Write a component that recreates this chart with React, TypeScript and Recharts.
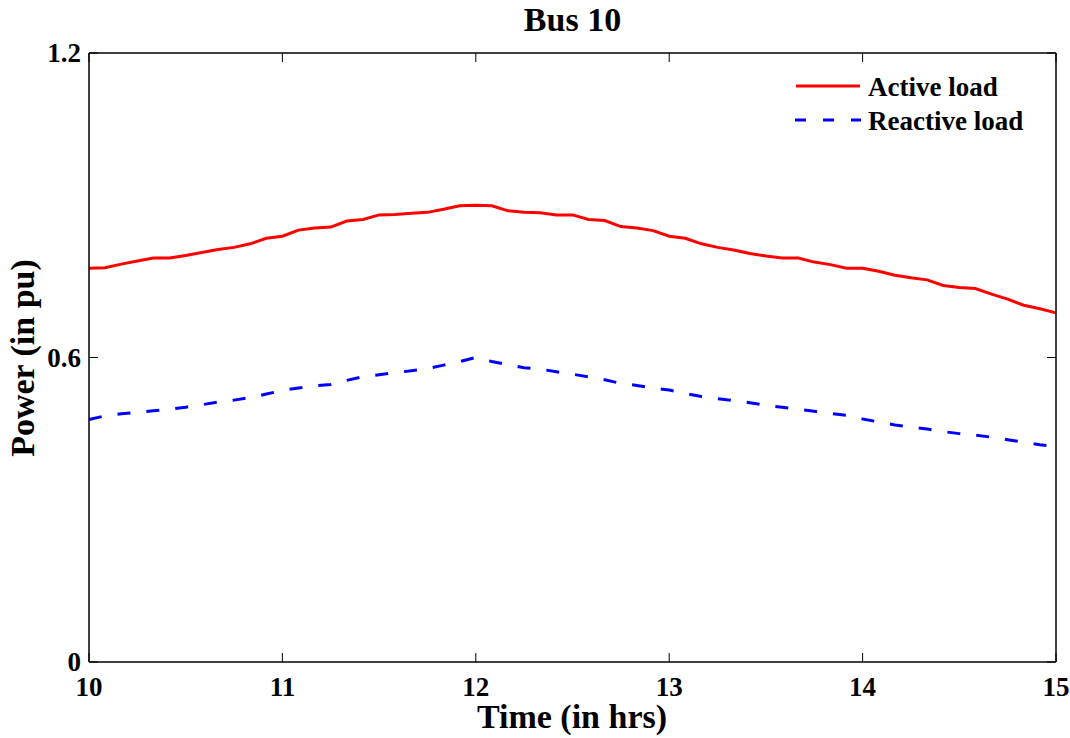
import { LineChart, Line, XAxis, YAxis, Label } from "recharts";

// time in hours, 5-minute steps
const hours = [
  10, 10.083, 10.167, 10.25, 10.333, 10.417, 10.5, 10.583, 10.667, 10.75, 10.833, 10.917,
  11, 11.083, 11.167, 11.25, 11.333, 11.417, 11.5, 11.583, 11.667, 11.75, 11.833, 11.917,
  12, 12.083, 12.167, 12.25, 12.333, 12.417, 12.5, 12.583, 12.667, 12.75, 12.833, 12.917,
  13, 13.083, 13.167, 13.25, 13.333, 13.417, 13.5, 13.583, 13.667, 13.75, 13.833, 13.917,
  14, 14.083, 14.167, 14.25, 14.333, 14.417, 14.5, 14.583, 14.667, 14.75, 14.833, 14.917,
  15,
];

const activeLoad = [
  0.776, 0.777, 0.784, 0.79, 0.796, 0.796, 0.801, 0.807, 0.813, 0.817, 0.824, 0.835,
  0.839, 0.851, 0.855, 0.857, 0.869, 0.872, 0.881, 0.882, 0.884, 0.886, 0.892, 0.899,
  0.9, 0.899, 0.889, 0.886, 0.885, 0.881, 0.881, 0.872, 0.87, 0.858, 0.855, 0.85,
  0.839, 0.835, 0.824, 0.817, 0.812, 0.805, 0.8, 0.796, 0.796, 0.788, 0.783, 0.776,
  0.776, 0.77, 0.762, 0.757, 0.753, 0.742, 0.738, 0.736, 0.725, 0.715, 0.703, 0.696,
  0.688,
];

const reactiveLoad = [
  0.478, 0.485, 0.489, 0.492, 0.495, 0.498, 0.502, 0.507, 0.512, 0.516, 0.521, 0.528,
  0.535, 0.54, 0.544, 0.547, 0.555, 0.562, 0.566, 0.57, 0.574, 0.578, 0.585, 0.592,
  0.6, 0.592, 0.586, 0.58, 0.577, 0.572, 0.567, 0.562, 0.556, 0.549, 0.545, 0.54,
  0.536, 0.529, 0.523, 0.519, 0.515, 0.511, 0.506, 0.502, 0.498, 0.494, 0.49, 0.486,
  0.479, 0.473, 0.467, 0.463, 0.459, 0.454, 0.45, 0.447, 0.443, 0.438, 0.433, 0.428,
  0.424,
];

const xTicks = [10, 11, 12, 13, 14, 15];
const yTicks = [0, 0.6, 1.2];

const data = hours.map((t, i) => ({
  t,
  active: activeLoad[i],
  reactive: reactiveLoad[i],
}));

const FONT = "'Liberation Serif', 'Times New Roman', serif";
const TICK = 9;

const LeftTick = (props: any) => {
  const { x, y, payload } = props;
  return (
    <g>
      <line x1={x} x2={x + TICK} y1={y} y2={y} stroke="#000" strokeWidth={1} />
      <text x={x - 8} y={y + 9} textAnchor="end" fontFamily={FONT} fontWeight="bold" fontSize={27} fill="#000">
        {payload.value}
      </text>
    </g>
  );
};

const RightTick = (props: any) => {
  const { x, y } = props;
  return <line x1={x} x2={x - TICK} y1={y} y2={y} stroke="#000" strokeWidth={1} />;
};

const BottomTick = (props: any) => {
  const { x, y, payload } = props;
  return (
    <g>
      <line x1={x} x2={x} y1={y} y2={y - TICK} stroke="#000" strokeWidth={1} />
      <text x={x} y={y + 34} textAnchor="middle" fontFamily={FONT} fontWeight="bold" fontSize={27} fill="#000">
        {payload.value}
      </text>
    </g>
  );
};

const TopTick = (props: any) => {
  const { x, y } = props;
  return <line x1={x} x2={x} y1={y} y2={y + TICK} stroke="#000" strokeWidth={1} />;
};

export default function App() {
  return (
    <div style={{ position: "absolute", left: 0, top: 0, width: 1070, height: 738, background: "#fff" }}>
      <div
        style={{
          position: "absolute",
          left: 0,
          width: 1145,
          top: 2,
          textAlign: "center",
          fontFamily: FONT,
          fontWeight: "bold",
          fontSize: 34,
          lineHeight: "36px",
        }}
      >
        Bus 10
      </div>

      <LineChart width={1070} height={738} data={data} margin={{ top: 52, right: 13, bottom: 0, left: 0 }}>
        <XAxis
          xAxisId="b"
          dataKey="t"
          type="number"
          domain={[10, 15]}
          ticks={xTicks}
          height={76}
          tickSize={0}
          tickMargin={0}
          tickLine={false}
          tick={<BottomTick />}
          axisLine={{ stroke: "#000", strokeWidth: 1.5 }}
        >
          <Label
            content={() => (
              <text x={572} y={728} textAnchor="middle" fontFamily={FONT} fontWeight="bold" fontSize={34} fill="#000">
                Time (in hrs)
              </text>
            )}
          />
        </XAxis>
        <XAxis
          xAxisId="t"
          orientation="top"
          dataKey="t"
          type="number"
          domain={[10, 15]}
          ticks={xTicks}
          height={1}
          tickSize={0}
          tickMargin={0}
          tickLine={false}
          tick={<TopTick />}
          axisLine={{ stroke: "#000", strokeWidth: 1.5 }}
        />
        <YAxis
          yAxisId="l"
          type="number"
          domain={[0, 1.2]}
          ticks={yTicks}
          width={89}
          tickSize={0}
          tickMargin={0}
          tickLine={false}
          tick={<LeftTick />}
          axisLine={{ stroke: "#000", strokeWidth: 1.5 }}
        >
          <Label
            content={() => (
              <text
                x={0}
                y={0}
                transform="translate(34 358) rotate(-90)"
                textAnchor="middle"
                fontFamily={FONT}
                fontWeight="bold"
                fontSize={34}
                fill="#000"
              >
                Power (in pu)
              </text>
            )}
          />
        </YAxis>
        <YAxis
          yAxisId="r"
          orientation="right"
          type="number"
          domain={[0, 1.2]}
          ticks={yTicks}
          width={1}
          tickSize={0}
          tickMargin={0}
          tickLine={false}
          tick={<RightTick />}
          axisLine={{ stroke: "#000", strokeWidth: 1.5 }}
        />
        <Line
          xAxisId="b"
          yAxisId="l"
          type="linear"
          dataKey="active"
          stroke="#ff0000"
          strokeWidth={3}
          dot={false}
          isAnimationActive={false}
        />
        {/* same domains as the bottom/left axes; bound to top/right so the frame axes render */}
        <Line
          xAxisId="t"
          yAxisId="r"
          type="linear"
          dataKey="reactive"
          stroke="#0000ff"
          strokeWidth={3}
          strokeDasharray="13 16"
          dot={false}
          isAnimationActive={false}
        />
      </LineChart>

      {/* Legend */}
      <svg style={{ position: "absolute", left: 0, top: 0 }} width={1070} height={150}>
        <line x1={796} x2={860} y1={86} y2={86} stroke="#ff0000" strokeWidth={3} />
        <text x={868} y={96} fontFamily={FONT} fontWeight="bold" fontSize={27} fill="#000">
          Active load
        </text>
        <line x1={795} x2={861} y1={120} y2={120} stroke="#0000ff" strokeWidth={3} strokeDasharray="11 17" />
        <text x={868} y={130} fontFamily={FONT} fontWeight="bold" fontSize={27} fill="#000">
          Reactive load
        </text>
      </svg>
    </div>
  );
}
